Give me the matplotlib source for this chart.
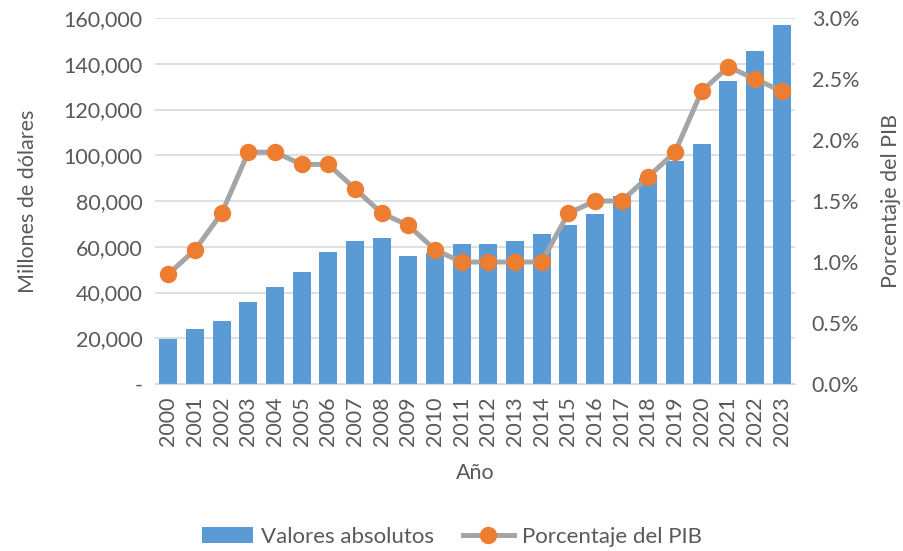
import matplotlib.pyplot as plt
import numpy as np
from matplotlib.ticker import FuncFormatter

years = [str(y) for y in range(2000, 2024)]
valores = [19700, 23900, 27600, 36000, 42400, 48900, 57800, 62600, 63900, 56100,
           57200, 61000, 61300, 62700, 65500, 69600, 74500, 82300, 90200, 97600,
           104700, 132300, 145700, 157000]
pct_pib = [0.9, 1.1, 1.4, 1.9, 1.9, 1.8, 1.8, 1.6, 1.4, 1.3, 1.1, 1.0, 1.0, 1.0,
           1.0, 1.4, 1.5, 1.5, 1.7, 1.9, 2.4, 2.6, 2.5, 2.4]

plt.rcParams['font.family'] = ['Lato', 'DejaVu Sans']
txt = '#595959'
fs = 15.5

fig = plt.figure(figsize=(9.04, 5.51), dpi=100)
ax = fig.add_axes([155 / 904, 1 - 384 / 551, 640 / 904, 366 / 551])
x = np.arange(len(years))

ax.bar(x, valores, width=0.67, color='#5B9BD5', label='Valores absolutos', zorder=2)
ax.set_ylim(0, 160000)
ax.set_yticks(range(0, 160001, 20000))
ax.yaxis.set_major_formatter(FuncFormatter(lambda v, p: '-' if v == 0 else f'{v:,.0f}'))
ax.set_xlim(-0.5, len(years) - 0.5)
ax.set_xticks(x)
ax.set_xticklabels(years, rotation=90)
ax.grid(axis='y', color='#D9D9D9', lw=1.2, zorder=0)
for s in ['top', 'right', 'left']:
    ax.spines[s].set_visible(False)
ax.spines['bottom'].set_color('#D9D9D9')
ax.tick_params(axis='both', length=0, labelsize=fs, colors=txt, pad=9)
ax.set_ylabel('Millones de dólares', fontsize=fs, color=txt, labelpad=18)
ax.set_xlabel('Año', fontsize=fs, color=txt, labelpad=12)

ax2 = ax.twinx()
ax2.plot(x, pct_pib, color='#A5A5A5', lw=3.6, marker='o', markersize=11.5,
         markerfacecolor='#ED7D31', markeredgecolor='#ED7D31', label='Porcentaje del PIB',
         zorder=3)
ax2.set_ylim(0, 3.0)
ax2.set_yticks(np.arange(0, 3.01, 0.5))
ax2.yaxis.set_major_formatter(FuncFormatter(lambda v, p: f'{v:.1f}%'))
for s in ['top', 'right', 'left', 'bottom']:
    ax2.spines[s].set_visible(False)
ax2.tick_params(axis='y', length=0, labelsize=fs, colors=txt, pad=12)
ax2.set_ylabel('Porcentaje del PIB', fontsize=fs, color=txt, labelpad=16)

h1, l1 = ax.get_legend_handles_labels()
h2, l2 = ax2.get_legend_handles_labels()
fig.legend(h1 + h2, l1 + l2, loc='center', bbox_to_anchor=(452 / 904, 1 - 537 / 551),
           ncol=2, frameon=False, fontsize=16, labelcolor=txt, handlelength=2.3,
           handletextpad=0.35, columnspacing=1.3)

fig.savefig('out.png', dpi=100)
